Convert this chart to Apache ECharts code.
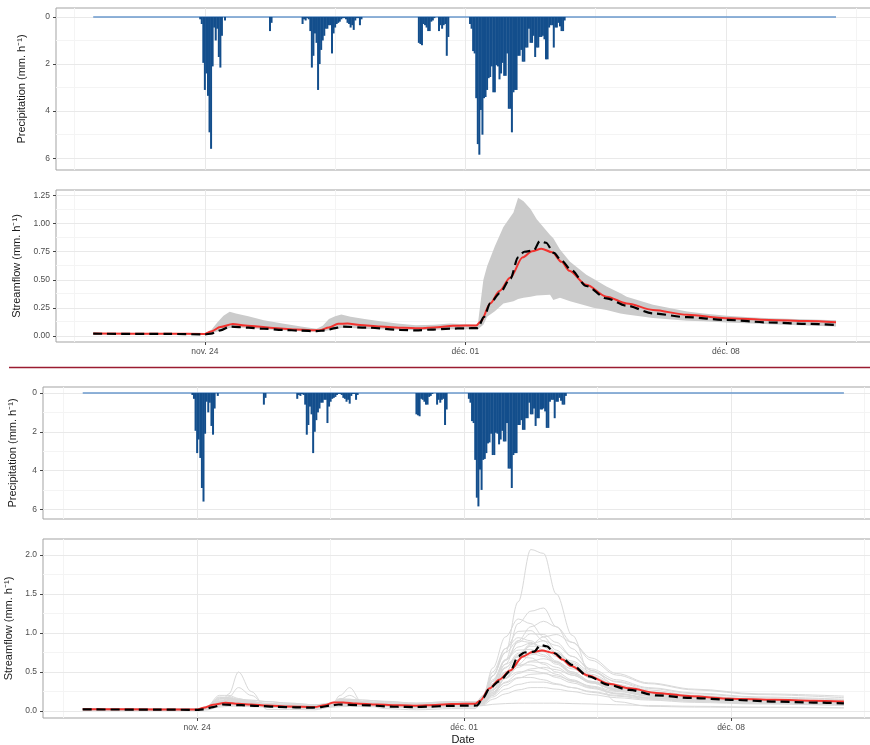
<!DOCTYPE html>
<html><head><meta charset="utf-8">
<script src="https://cdn.jsdelivr.net/npm/echarts@6/dist/echarts.min.js"></script>
<style>html,body{margin:0;padding:0;background:#fff}#c{width:870px;height:745px}</style>
</head><body><div id="c"></div>
<script>
// x values: hours since 21 Nov 00:00
const xTickHours = [72, 240, 408];
const xTickLabels = ['nov. 24', 'déc. 01', 'déc. 08'];
const xMinorHours = [-12, 156, 324, 492];
const precipTicks = [0, 2, 4, 6];
const precipMinor = [1, 3, 5];
const flowTicksA = [0, 0.25, 0.5, 0.75, 1.0, 1.25];
const flowMinorA = [0.125, 0.375, 0.625, 0.875, 1.125];
const flowTicksB = [0, 0.5, 1.0, 1.5, 2.0];
const flowMinorB = [0.25, 0.75, 1.25, 1.75];
const recordSpan = [0, 479];

// hourly precipitation (mm/h), each storm from its start hour
const storm1Start = 69;
const storm1 = [0.1, 0.3, 1.95, 3.1, 2.4, 3.35, 4.9, 5.6, 2.1, 0.45, 1.0, 0.5, 1.7, 2.15, 0.8, 0, 0.15];
const shower1Start = 114;
const shower1 = [0.6, 0.25];
const storm2Start = 135;
const storm2 = [0.3, 0.1, 0.15, 0.05, 0.1, 0.6, 2.15, 1.65, 0.7, 1.1, 3.1, 2.0, 1.4, 1.0, 0.8, 0.5, 0.5, 0.35, 0.35, 1.55, 0.7, 0.45, 0.3, 0.25, 0.2, 0.1, 0.05, 0.05, 0.1, 0.25, 0.3, 0.45, 0.35, 0.55, 0.15, 0.05, 0.05, 0.35, 0.1];
const storm3Start = 210;
const storm3 = [1.1, 1.15, 1.2, 0.3, 0.35, 0.45, 0.6, 0.6, 0.2, 0.15, 0.05, 0, 0, 0.6, 0.35, 0.5, 0.35, 0.3, 1.65, 0.85];
const storm4Start = 243;
const storm4 = [0.3, 0.5, 1.45, 1.55, 3.45, 5.4, 5.85, 3.95, 5.0, 3.45, 3.4, 3.1, 2.6, 2.55, 2.1, 3.2, 3.2, 2.05, 2.1, 2.65, 2.4, 1.95, 2.5, 2.5, 1.55, 3.9, 3.9, 4.9, 3.2, 3.1, 3.1, 1.65, 1.65, 1.4, 1.9, 1.9, 1.3, 1.3, 0.5, 1.1, 1.1, 0.8, 1.7, 1.3, 1.3, 0.85, 0.85, 0.8, 0.95, 1.8, 1.8, 0.45, 0.35, 0.35, 1.3, 0.45, 0.45, 0.25, 0.4, 0.6, 0.6, 0.15];

// observed streamflow (dashed)
const obsHours = [0, 48, 72, 76, 82, 88, 100, 110, 122, 134, 144, 150, 156, 161, 176, 198, 208, 218, 230, 240, 248, 252, 256, 262, 269, 274, 278, 284, 288, 292, 297, 302, 308, 318, 331, 344, 361, 383, 408, 436, 460, 479];
const obsFlow = [0.02, 0.018, 0.014, 0.02, 0.05, 0.083, 0.074, 0.064, 0.054, 0.047, 0.042, 0.05, 0.07, 0.083, 0.074, 0.054, 0.05, 0.056, 0.065, 0.068, 0.07, 0.17, 0.29, 0.38, 0.51, 0.7, 0.75, 0.76, 0.845, 0.83, 0.74, 0.67, 0.59, 0.445, 0.335, 0.27, 0.2, 0.167, 0.143, 0.12, 0.108, 0.098];
// simulated median (red)
const simHours = [0, 48, 72, 76, 82, 90, 98, 106, 116, 130, 146, 152, 158, 164, 172, 185, 200, 210, 222, 232, 240, 247, 250, 256, 262, 269, 277, 283, 289, 296, 302, 307, 318, 331, 344, 361, 383, 408, 436, 460, 479];
const simFlow = [0.022, 0.02, 0.018, 0.04, 0.08, 0.107, 0.092, 0.083, 0.07, 0.057, 0.05, 0.075, 0.108, 0.11, 0.097, 0.083, 0.073, 0.068, 0.078, 0.09, 0.092, 0.092, 0.13, 0.29, 0.4, 0.52, 0.7, 0.755, 0.777, 0.745, 0.66, 0.58, 0.455, 0.35, 0.29, 0.232, 0.188, 0.158, 0.143, 0.132, 0.122];
// uncertainty band
const bandHours = [0, 72, 76, 80, 84, 88, 92, 100, 110, 122, 134, 144, 148, 152, 156, 160, 166, 175, 185, 196, 208, 220, 230, 240, 248, 251.6, 254, 259, 264.5, 271, 274, 277.5, 282, 286, 294.6, 296.7, 301, 307.5, 318, 322.5, 331, 340, 344, 361, 383, 393.5, 408.5, 425.8, 436.5, 479];
const bandLow = [0.015, 0.012, 0.02, 0.04, 0.06, 0.07, 0.075, 0.07, 0.06, 0.05, 0.042, 0.038, 0.04, 0.05, 0.06, 0.07, 0.07, 0.065, 0.06, 0.055, 0.05, 0.055, 0.06, 0.06, 0.06, 0.1, 0.17, 0.22, 0.29, 0.31, 0.33, 0.34, 0.35, 0.36, 0.366, 0.32, 0.34, 0.31, 0.27, 0.25, 0.23, 0.2, 0.19, 0.16, 0.135, 0.13, 0.12, 0.11, 0.105, 0.083];
const bandHigh = [0.027, 0.022, 0.05, 0.12, 0.18, 0.215, 0.2, 0.175, 0.14, 0.11, 0.085, 0.065, 0.09, 0.15, 0.175, 0.19, 0.17, 0.15, 0.13, 0.11, 0.095, 0.1, 0.11, 0.105, 0.1, 0.5, 0.62, 0.8, 0.97, 1.1, 1.23, 1.2, 1.13, 1.04, 0.9, 0.87, 0.77, 0.66, 0.545, 0.51, 0.44, 0.38, 0.35, 0.277, 0.217, 0.2, 0.18, 0.165, 0.158, 0.14];

// ensemble members
const runHours = [0, 72, 78, 86, 92, 98, 106, 116, 130, 146, 156, 162, 168, 176, 190, 210, 232, 247, 252, 258, 266, 274, 282, 290, 298, 308, 320, 336, 356, 385, 425, 479];
const run01 = [0.015,0.012,0.012,0.06,0.22,0.5,0.25,0.02,0.02,0.015,0.05,0.2,0.3,0.1,0.03,0.015,0.03,0.03, 0.18,0.45,0.75,1.4,2.07,2.02,1.5,0.97,0.43,0.12,0.06,0.05,0.045,0.04];
const run02 = [0.02,0.015,0.02,0.08,0.18,0.3,0.2,0.06,0.04,0.03,0.07,0.15,0.2,0.12,0.06,0.035,0.05,0.05, 0.15,0.35,0.65,1.12,1.28,1.32,1.08,0.8,0.52,0.33,0.22,0.15,0.11,0.08];
const run03 = [0.025,0.02,0.05,0.15,0.16,0.14,0.12,0.09,0.07,0.055,0.09,0.13,0.13,0.12,0.1,0.08,0.1,0.1, 0.2,0.55,0.95,1.18,1.12,0.95,0.78,0.6,0.45,0.32,0.23,0.17,0.13,0.1];
const run04 = [0.03,0.025,0.04,0.12,0.15,0.15,0.14,0.12,0.1,0.08,0.1,0.14,0.15,0.14,0.12,0.1,0.12,0.12, 0.14,0.3,0.6,0.9,1.08,1.15,1.08,0.88,0.65,0.46,0.35,0.27,0.21,0.17];
const run05 = [0.02,0.015,0.05,0.17,0.18,0.15,0.12,0.09,0.065,0.05,0.1,0.15,0.14,0.12,0.09,0.07,0.09,0.09, 0.18,0.45,0.8,1.02,1.03,0.9,0.75,0.58,0.43,0.31,0.22,0.16,0.12,0.1];
const run06 = [0.025,0.02,0.04,0.11,0.13,0.12,0.11,0.09,0.075,0.06,0.09,0.12,0.12,0.11,0.095,0.08,0.1,0.1, 0.14,0.35,0.65,0.88,0.99,0.98,0.88,0.7,0.52,0.37,0.27,0.2,0.15,0.12];
const run07 = [0.02,0.018,0.06,0.2,0.2,0.16,0.12,0.085,0.06,0.045,0.1,0.16,0.15,0.12,0.085,0.06,0.08,0.08, 0.2,0.5,0.8,0.94,0.9,0.78,0.64,0.5,0.38,0.28,0.2,0.15,0.12,0.09];
const run08 = [0.03,0.025,0.035,0.09,0.12,0.12,0.115,0.1,0.085,0.07,0.085,0.11,0.12,0.12,0.11,0.09,0.11,0.11, 0.12,0.26,0.5,0.72,0.86,0.9,0.84,0.7,0.54,0.4,0.3,0.23,0.18,0.15];
const run09 = [0.02,0.016,0.045,0.13,0.14,0.12,0.1,0.08,0.065,0.05,0.08,0.11,0.11,0.1,0.085,0.07,0.09,0.09, 0.15,0.38,0.65,0.82,0.87,0.82,0.7,0.56,0.42,0.3,0.22,0.16,0.12,0.1];
const run10 = [0.025,0.02,0.04,0.1,0.12,0.115,0.1,0.085,0.07,0.058,0.08,0.1,0.105,0.1,0.09,0.075,0.095,0.095, 0.12,0.3,0.55,0.74,0.83,0.83,0.75,0.62,0.47,0.34,0.25,0.18,0.14,0.11];
const run11 = [0.02,0.015,0.05,0.16,0.16,0.13,0.1,0.075,0.055,0.045,0.09,0.13,0.12,0.1,0.08,0.06,0.08,0.08, 0.16,0.4,0.66,0.78,0.79,0.72,0.62,0.5,0.38,0.28,0.2,0.15,0.12,0.09];
const run12 = [0.03,0.025,0.035,0.08,0.1,0.1,0.1,0.09,0.08,0.068,0.08,0.095,0.1,0.1,0.095,0.085,0.1,0.1, 0.11,0.22,0.42,0.6,0.72,0.77,0.74,0.64,0.5,0.38,0.29,0.22,0.17,0.14];
const run13 = [0.02,0.017,0.045,0.12,0.13,0.11,0.095,0.078,0.062,0.05,0.075,0.1,0.1,0.095,0.082,0.068,0.088,0.088, 0.13,0.33,0.56,0.7,0.74,0.7,0.6,0.48,0.37,0.27,0.2,0.15,0.11,0.09];
const run14 = [0.018,0.014,0.05,0.14,0.14,0.115,0.09,0.07,0.055,0.042,0.085,0.12,0.11,0.095,0.075,0.058,0.078,0.078, 0.15,0.38,0.6,0.69,0.68,0.6,0.5,0.4,0.31,0.23,0.17,0.13,0.1,0.08];
const run15 = [0.025,0.02,0.035,0.085,0.1,0.1,0.095,0.085,0.072,0.06,0.075,0.09,0.095,0.095,0.088,0.076,0.092,0.092, 0.1,0.24,0.42,0.56,0.64,0.67,0.63,0.54,0.43,0.32,0.24,0.18,0.14,0.11];
const run16 = [0.02,0.016,0.04,0.1,0.11,0.1,0.09,0.075,0.062,0.05,0.07,0.09,0.095,0.09,0.08,0.066,0.085,0.085, 0.12,0.28,0.47,0.58,0.63,0.62,0.56,0.46,0.36,0.27,0.2,0.15,0.12,0.09];
const run17 = [0.018,0.014,0.045,0.12,0.12,0.1,0.085,0.068,0.053,0.042,0.075,0.1,0.1,0.09,0.072,0.056,0.075,0.075, 0.14,0.33,0.5,0.59,0.59,0.54,0.47,0.38,0.3,0.22,0.17,0.13,0.1,0.08];
const run18 = [0.025,0.02,0.03,0.075,0.09,0.09,0.088,0.08,0.07,0.058,0.07,0.085,0.09,0.09,0.084,0.074,0.09,0.09, 0.1,0.22,0.37,0.48,0.54,0.56,0.53,0.46,0.37,0.29,0.22,0.17,0.13,0.1];
const run19 = [0.02,0.015,0.04,0.095,0.1,0.09,0.08,0.068,0.056,0.046,0.068,0.085,0.088,0.082,0.072,0.06,0.078,0.078, 0.12,0.27,0.42,0.5,0.52,0.49,0.43,0.36,0.29,0.22,0.17,0.13,0.1,0.08];
const run20 = [0.022,0.018,0.03,0.07,0.085,0.085,0.082,0.075,0.065,0.055,0.065,0.08,0.085,0.085,0.078,0.068,0.085,0.085, 0.1,0.2,0.33,0.42,0.47,0.48,0.45,0.39,0.32,0.25,0.19,0.15,0.12,0.09];
const run21 = [0.018,0.014,0.035,0.085,0.09,0.08,0.072,0.062,0.05,0.042,0.06,0.075,0.078,0.074,0.065,0.055,0.072,0.072, 0.11,0.24,0.36,0.43,0.43,0.4,0.35,0.3,0.24,0.19,0.15,0.12,0.1,0.08];
const run22 = [0.02,0.016,0.028,0.065,0.075,0.075,0.072,0.066,0.058,0.05,0.06,0.072,0.076,0.075,0.07,0.062,0.078,0.078, 0.09,0.18,0.28,0.34,0.37,0.37,0.34,0.3,0.25,0.2,0.16,0.13,0.1,0.08];
const run23 = [0.016,0.013,0.03,0.07,0.075,0.07,0.064,0.056,0.047,0.04,0.055,0.068,0.07,0.066,0.058,0.05,0.066,0.066, 0.08,0.15,0.22,0.27,0.3,0.3,0.28,0.25,0.21,0.17,0.14,0.11,0.09,0.07];
const run24 = [0.015,0.012,0.02,0.05,0.06,0.06,0.055,0.05,0.045,0.04,0.048,0.055,0.058,0.056,0.052,0.047,0.06,0.06, 0.07,0.085,0.095,0.1,0.1,0.1,0.1,0.095,0.09,0.08,0.07,0.06,0.05,0.04];
const run25 = [0.022,0.018,0.055,0.18,0.17,0.14,0.11,0.08,0.06,0.048,0.095,0.14,0.13,0.11,0.085,0.065,0.085,0.085, 0.17,0.45,0.75,0.9,0.88,0.76,0.62,0.48,0.36,0.26,0.19,0.14,0.11,0.08];
const run26 = [0.03,0.026,0.035,0.09,0.13,0.14,0.135,0.12,0.1,0.08,0.09,0.12,0.14,0.14,0.125,0.1,0.12,0.12, 0.1,0.2,0.42,0.66,0.85,0.95,0.98,0.88,0.68,0.48,0.36,0.28,0.22,0.19];
const ensembleRuns = [run01, run02, run03, run04, run05, run06, run07, run08, run09, run10, run11, run12, run13, run14, run15, run16, run17, run18, run19, run20, run21, run22, run23, run24, run25, run26];

// ---------- build ----------
const FONT = '"Liberation Sans", Arial, sans-serif';
function pairs(xs, ys) { return xs.map((x, i) => [x, ys[i]]); }
function stormPairs(start, vals) { return vals.map((v, i) => [start + i, v]).filter(p => p[1] > 0); }
const precipData = [].concat(
  stormPairs(storm1Start, storm1), stormPairs(shower1Start, shower1),
  stormPairs(storm2Start, storm2), stormPairs(storm3Start, storm3),
  stormPairs(storm4Start, storm4));
const zeroLine = recordSpan.map(h => [h, 0]);

const MAJ = {color: '#e9e9e9', width: 1, type: 'solid'};
const MIN = {color: '#f4f4f4', width: 1, type: 'solid'};
function gridMarks(yMajor, yMinor) {
  const d = [];
  xMinorHours.forEach(v => d.push({xAxis: v, lineStyle: MIN}));
  yMinor.forEach(v => d.push({yAxis: v, lineStyle: MIN}));
  xTickHours.forEach(v => d.push({xAxis: v, lineStyle: MAJ}));
  yMajor.forEach(v => d.push({yAxis: v, lineStyle: MAJ}));
  return d;
}
function gridSeries(i, yMajor, yMinor) {
  return {type: 'line', xAxisIndex: i, yAxisIndex: i, data: [], silent: true, z: 0,
    markLine: {z: 0, silent: true, symbol: ['none', 'none'], label: {show: false}, animation: false,
      emphasis: {disabled: true}, data: gridMarks(yMajor, yMinor)}};
}
const grids = [
  {left: 56, top: 8, width: 818, height: 162},
  {left: 56, top: 190, width: 818, height: 152},
  {left: 43, top: 387, width: 840, height: 132},
  {left: 43, top: 539, width: 840, height: 179}
].map(g => Object.assign(g, {show: true, borderColor: '#a3a3a3', borderWidth: 1, backgroundColor: 'transparent',
  containLabel: false, outerBoundsMode: 'none'}));

const xRanges = [[-24, 503.5], [-24, 503.5], [-25, 503.6], [-25, 503.6]];
const xAxes = xRanges.map((r, i) => {
  const lab = (i === 1 || i === 3);
  return {
    type: 'value', gridIndex: i, min: r[0], max: r[1], position: 'bottom',
    axisLine: {show: false, onZero: false}, splitLine: {show: false},
    axisTick: {show: lab, customValues: xTickHours, length: 3, lineStyle: {color: '#444', width: 1}},
    axisLabel: {show: lab, customValues: xTickHours, margin: 5, fontSize: 8.5, color: '#4d4d4d', fontFamily: FONT,
      formatter: v => { const k = xTickHours.indexOf(Math.round(v)); return k >= 0 ? xTickLabels[k] : ''; }},
    name: i === 3 ? 'Date' : '', nameLocation: 'middle', nameGap: 16,
    nameTextStyle: {fontSize: 11, color: '#111', fontFamily: FONT}
  };
});
function yAxis(i, min, max, ticks, inverse, fmt, name, gap) {
  return {
    type: 'value', gridIndex: i, min: min, max: max, inverse: inverse, position: 'left',
    axisLine: {show: false, onZero: false}, splitLine: {show: false},
    axisTick: {show: true, customValues: ticks, length: 3, lineStyle: {color: '#444', width: 1}},
    axisLabel: {customValues: ticks, margin: 6, fontSize: 8.5, color: '#4d4d4d', fontFamily: FONT, formatter: fmt},
    name: name, nameLocation: 'middle', nameGap: gap, nameRotate: 90,
    nameTextStyle: {fontSize: 11, color: '#1a1a1a', fontFamily: FONT}
  };
}
const yAxes = [
  yAxis(0, -0.38, 6.5, precipTicks, true, v => String(Math.round(v)), 'Precipitation (mm. h⁻¹)', 29),
  yAxis(1, -0.054, 1.30, flowTicksA, false, v => v.toFixed(2), 'Streamflow (mm. h⁻¹)', 29),
  yAxis(2, -0.31, 6.5, precipTicks, true, v => String(Math.round(v)), 'Precipitation (mm. h⁻¹)', 25),
  yAxis(3, -0.09, 2.205, flowTicksB, false, v => v.toFixed(1), 'Streamflow (mm. h⁻¹)', 25)
];

const series = [
  gridSeries(0, precipTicks, precipMinor),
  gridSeries(1, flowTicksA, flowMinorA),
  gridSeries(2, precipTicks, precipMinor),
  gridSeries(3, flowTicksB, flowMinorB)
];
[0, 2].forEach(i => {
  series.push({type: 'line', xAxisIndex: i, yAxisIndex: i, data: zeroLine, symbol: 'none', silent: true, z: 2,
    lineStyle: {color: '#6a98cc', width: 1.5}});
  series.push({type: 'bar', xAxisIndex: i, yAxisIndex: i, data: precipData, barWidth: 2,
    silent: true, z: 3, itemStyle: {color: '#134e8c'}});
});
// band in panel 2 (polygon through axis scales)
series.push({type: 'custom', xAxisIndex: 1, yAxisIndex: 1, silent: true, z: 2, clip: true,
  data: [0],
  renderItem: (params, api) => {
    const up = bandHours.map((h, i) => api.coord([h, bandHigh[i]]));
    const lo = bandHours.map((h, i) => api.coord([h, bandLow[i]])).reverse();
    return {type: 'polygon', shape: {points: up.concat(lo)}, style: {fill: '#cbcbcb', stroke: null}};
  }});
// ensemble in panel 4
ensembleRuns.forEach(run => {
  series.push({type: 'line', xAxisIndex: 3, yAxisIndex: 3, data: pairs(runHours, run), symbol: 'none', silent: true, z: 2,
    smooth: 0.35, smoothMonotone: 'x', lineStyle: {color: '#d9d9d9', width: 1}});
});
[1, 3].forEach(i => {
  series.push({type: 'line', xAxisIndex: i, yAxisIndex: i, data: pairs(simHours, simFlow), symbol: 'none', silent: true, z: 4,
    smooth: 0.3, smoothMonotone: 'x', lineStyle: {color: '#f2332f', width: 2}});
  series.push({type: 'line', xAxisIndex: i, yAxisIndex: i, data: pairs(obsHours, obsFlow), symbol: 'none', silent: true, z: 5,
    smooth: 0.3, smoothMonotone: 'x', lineStyle: {color: '#000', width: 2.2, type: [9, 5]}});
});

const chart = echarts.init(document.getElementById('c'), null, {renderer: 'canvas'});
chart.setOption({
  animation: false,
  backgroundColor: '#fff',
  textStyle: {fontFamily: FONT},
  grid: grids, xAxis: xAxes, yAxis: yAxes, series: series,
  graphic: [{type: 'line', silent: true, shape: {x1: 9, y1: 367.5, x2: 870, y2: 367.5},
    style: {stroke: '#9b1c31', lineWidth: 1.5}}]
});
</script></body></html>
